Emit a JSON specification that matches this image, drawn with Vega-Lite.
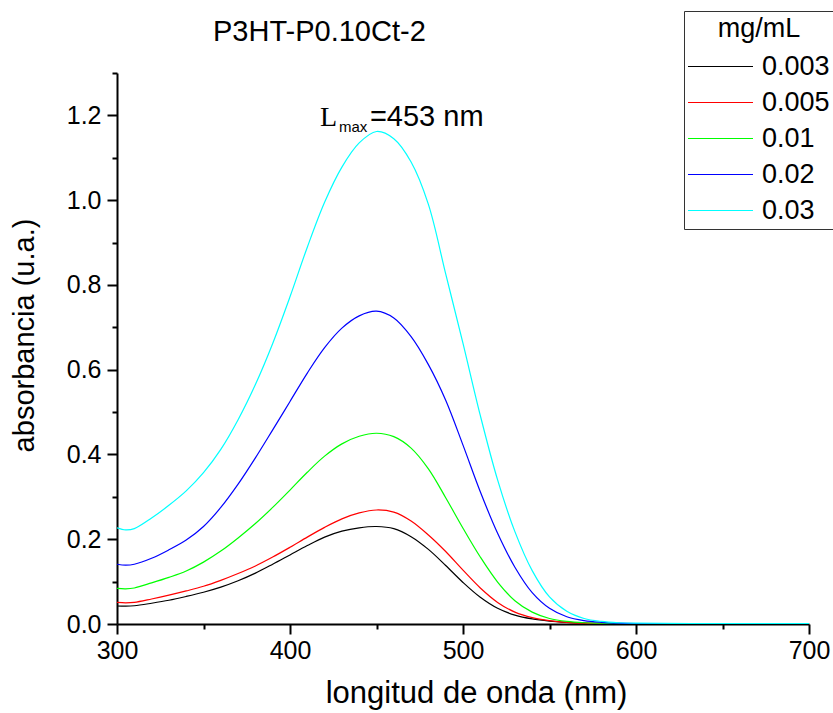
{
  "$schema": "https://vega.github.io/schema/vega-lite/v6.json",
  "width": 692,
  "height": 551,
  "autosize": {"type": "none"},
  "padding": {"left": 117, "top": 73, "right": 24, "bottom": 89},
  "background": "white",
  "config": {
    "font": "Liberation Sans",
    "view": {"stroke": null},
    "axis": {"grid": false, "domainColor": "black", "domainWidth": 2, "tickColor": "black", "tickWidth": 2, "labelColor": "black", "labelFontSize": 25, "labelFont": "Liberation Sans", "titleFont": "Liberation Sans", "titleFontSize": 29, "titleFontWeight": "normal", "titleColor": "black"}
  },
  "title": {"text": "P3HT-P0.10Ct-2", "anchor": "start", "frame": "group", "dx": 96, "fontSize": 29, "fontWeight": "normal", "font": "Liberation Sans", "color": "black", "baseline": "alphabetic", "offset": -59},
  "datasets": {
    "spectra": [
      {"wl":300,"a":0.0425,"c":"0.003"},{"wl":305,"a":0.042,"c":"0.003"},{"wl":310,"a":0.043,"c":"0.003"},{"wl":320,"a":0.049,"c":"0.003"},{"wl":330,"a":0.056,"c":"0.003"},{"wl":340,"a":0.065,"c":"0.003"},{"wl":350,"a":0.075,"c":"0.003"},{"wl":360,"a":0.087,"c":"0.003"},{"wl":370,"a":0.102,"c":"0.003"},{"wl":380,"a":0.120,"c":"0.003"},{"wl":390,"a":0.141,"c":"0.003"},{"wl":400,"a":0.163,"c":"0.003"},{"wl":410,"a":0.185,"c":"0.003"},{"wl":420,"a":0.205,"c":"0.003"},{"wl":430,"a":0.219,"c":"0.003"},{"wl":440,"a":0.227,"c":"0.003"},{"wl":450,"a":0.230,"c":"0.003"},{"wl":460,"a":0.225,"c":"0.003"},{"wl":470,"a":0.206,"c":"0.003"},{"wl":480,"a":0.176,"c":"0.003"},{"wl":490,"a":0.138,"c":"0.003"},{"wl":500,"a":0.098,"c":"0.003"},{"wl":510,"a":0.063,"c":"0.003"},{"wl":520,"a":0.037,"c":"0.003"},{"wl":530,"a":0.021,"c":"0.003"},{"wl":540,"a":0.012,"c":"0.003"},{"wl":550,"a":0.007,"c":"0.003"},{"wl":560,"a":0.004,"c":"0.003"},{"wl":570,"a":0.002,"c":"0.003"},{"wl":580,"a":0.001,"c":"0.003"},{"wl":590,"a":0.001,"c":"0.003"},{"wl":600,"a":0.001,"c":"0.003"},{"wl":650,"a":0.001,"c":"0.003"},{"wl":700,"a":0.001,"c":"0.003"},
      {"wl":300,"a":0.051,"c":"0.005"},{"wl":305,"a":0.050,"c":"0.005"},{"wl":310,"a":0.051,"c":"0.005"},{"wl":320,"a":0.059,"c":"0.005"},{"wl":330,"a":0.068,"c":"0.005"},{"wl":340,"a":0.078,"c":"0.005"},{"wl":350,"a":0.089,"c":"0.005"},{"wl":360,"a":0.103,"c":"0.005"},{"wl":370,"a":0.119,"c":"0.005"},{"wl":380,"a":0.137,"c":"0.005"},{"wl":390,"a":0.158,"c":"0.005"},{"wl":400,"a":0.181,"c":"0.005"},{"wl":410,"a":0.205,"c":"0.005"},{"wl":420,"a":0.228,"c":"0.005"},{"wl":430,"a":0.248,"c":"0.005"},{"wl":440,"a":0.262,"c":"0.005"},{"wl":450,"a":0.269,"c":"0.005"},{"wl":460,"a":0.264,"c":"0.005"},{"wl":470,"a":0.243,"c":"0.005"},{"wl":480,"a":0.210,"c":"0.005"},{"wl":490,"a":0.171,"c":"0.005"},{"wl":500,"a":0.127,"c":"0.005"},{"wl":510,"a":0.085,"c":"0.005"},{"wl":520,"a":0.051,"c":"0.005"},{"wl":530,"a":0.028,"c":"0.005"},{"wl":540,"a":0.015,"c":"0.005"},{"wl":550,"a":0.008,"c":"0.005"},{"wl":560,"a":0.004,"c":"0.005"},{"wl":570,"a":0.002,"c":"0.005"},{"wl":580,"a":0.001,"c":"0.005"},{"wl":590,"a":0.001,"c":"0.005"},{"wl":600,"a":0.001,"c":"0.005"},{"wl":650,"a":0.001,"c":"0.005"},{"wl":700,"a":0.001,"c":"0.005"},
      {"wl":300,"a":0.084,"c":"0.01"},{"wl":305,"a":0.083,"c":"0.01"},{"wl":310,"a":0.085,"c":"0.01"},{"wl":320,"a":0.097,"c":"0.01"},{"wl":330,"a":0.110,"c":"0.01"},{"wl":340,"a":0.125,"c":"0.01"},{"wl":350,"a":0.146,"c":"0.01"},{"wl":360,"a":0.172,"c":"0.01"},{"wl":370,"a":0.203,"c":"0.01"},{"wl":380,"a":0.237,"c":"0.01"},{"wl":390,"a":0.275,"c":"0.01"},{"wl":400,"a":0.316,"c":"0.01"},{"wl":410,"a":0.358,"c":"0.01"},{"wl":420,"a":0.396,"c":"0.01"},{"wl":430,"a":0.425,"c":"0.01"},{"wl":440,"a":0.443,"c":"0.01"},{"wl":450,"a":0.450,"c":"0.01"},{"wl":460,"a":0.442,"c":"0.01"},{"wl":470,"a":0.415,"c":"0.01"},{"wl":480,"a":0.366,"c":"0.01"},{"wl":490,"a":0.298,"c":"0.01"},{"wl":500,"a":0.226,"c":"0.01"},{"wl":510,"a":0.158,"c":"0.01"},{"wl":520,"a":0.099,"c":"0.01"},{"wl":530,"a":0.055,"c":"0.01"},{"wl":540,"a":0.028,"c":"0.01"},{"wl":550,"a":0.013,"c":"0.01"},{"wl":560,"a":0.006,"c":"0.01"},{"wl":570,"a":0.003,"c":"0.01"},{"wl":580,"a":0.002,"c":"0.01"},{"wl":590,"a":0.001,"c":"0.01"},{"wl":600,"a":0.001,"c":"0.01"},{"wl":650,"a":0.001,"c":"0.01"},{"wl":700,"a":0.001,"c":"0.01"},
      {"wl":300,"a":0.141,"c":"0.02"},{"wl":305,"a":0.139,"c":"0.02"},{"wl":310,"a":0.141,"c":"0.02"},{"wl":320,"a":0.155,"c":"0.02"},{"wl":330,"a":0.175,"c":"0.02"},{"wl":340,"a":0.198,"c":"0.02"},{"wl":350,"a":0.230,"c":"0.02"},{"wl":360,"a":0.275,"c":"0.02"},{"wl":370,"a":0.330,"c":"0.02"},{"wl":380,"a":0.392,"c":"0.02"},{"wl":390,"a":0.458,"c":"0.02"},{"wl":400,"a":0.525,"c":"0.02"},{"wl":410,"a":0.592,"c":"0.02"},{"wl":420,"a":0.652,"c":"0.02"},{"wl":430,"a":0.698,"c":"0.02"},{"wl":440,"a":0.727,"c":"0.02"},{"wl":450,"a":0.738,"c":"0.02"},{"wl":460,"a":0.722,"c":"0.02"},{"wl":470,"a":0.678,"c":"0.02"},{"wl":480,"a":0.612,"c":"0.02"},{"wl":490,"a":0.528,"c":"0.02"},{"wl":500,"a":0.422,"c":"0.02"},{"wl":510,"a":0.312,"c":"0.02"},{"wl":520,"a":0.214,"c":"0.02"},{"wl":530,"a":0.134,"c":"0.02"},{"wl":540,"a":0.074,"c":"0.02"},{"wl":550,"a":0.037,"c":"0.02"},{"wl":560,"a":0.017,"c":"0.02"},{"wl":570,"a":0.008,"c":"0.02"},{"wl":580,"a":0.004,"c":"0.02"},{"wl":590,"a":0.002,"c":"0.02"},{"wl":600,"a":0.001,"c":"0.02"},{"wl":650,"a":0.001,"c":"0.02"},{"wl":700,"a":0.001,"c":"0.02"},
      {"wl":300,"a":0.227,"c":"0.03"},{"wl":305,"a":0.222,"c":"0.03"},{"wl":310,"a":0.225,"c":"0.03"},{"wl":320,"a":0.250,"c":"0.03"},{"wl":330,"a":0.280,"c":"0.03"},{"wl":340,"a":0.314,"c":"0.03"},{"wl":350,"a":0.357,"c":"0.03"},{"wl":360,"a":0.412,"c":"0.03"},{"wl":370,"a":0.482,"c":"0.03"},{"wl":380,"a":0.565,"c":"0.03"},{"wl":390,"a":0.662,"c":"0.03"},{"wl":400,"a":0.772,"c":"0.03"},{"wl":410,"a":0.889,"c":"0.03"},{"wl":420,"a":0.995,"c":"0.03"},{"wl":430,"a":1.078,"c":"0.03"},{"wl":440,"a":1.135,"c":"0.03"},{"wl":450,"a":1.162,"c":"0.03"},{"wl":460,"a":1.145,"c":"0.03"},{"wl":470,"a":1.090,"c":"0.03"},{"wl":480,"a":0.990,"c":"0.03"},{"wl":490,"a":0.826,"c":"0.03"},{"wl":500,"a":0.662,"c":"0.03"},{"wl":510,"a":0.492,"c":"0.03"},{"wl":520,"a":0.340,"c":"0.03"},{"wl":530,"a":0.218,"c":"0.03"},{"wl":540,"a":0.126,"c":"0.03"},{"wl":550,"a":0.064,"c":"0.03"},{"wl":560,"a":0.030,"c":"0.03"},{"wl":570,"a":0.013,"c":"0.03"},{"wl":580,"a":0.006,"c":"0.03"},{"wl":590,"a":0.003,"c":"0.03"},{"wl":600,"a":0.002,"c":"0.03"},{"wl":650,"a":0.001,"c":"0.03"},{"wl":700,"a":0.001,"c":"0.03"}
    ],
    "annot": [
      {"part": "L", "t": "L", "wl": 417.3, "a": 1.174},
      {"part": "sub", "t": "max", "wl": 428.3, "a": 1.160},
      {"part": "eq", "t": "=453 nm", "wl": 446.2, "a": 1.174}
    ]
  },
  "layer": [
    {
      "data": {"name": "spectra"},
      "mark": {"type": "line", "strokeWidth": 1.2, "interpolate": "catmull-rom", "clip": true},
      "encoding": {
        "x": {
          "field": "wl", "type": "quantitative",
          "scale": {"domain": [300, 700], "nice": false, "zero": false},
          "axis": {
            "title": "longitud de onda (nm)",
            "values": [300, 350, 400, 450, 500, 550, 600, 650, 700],
            "labelExpr": "datum.value % 100 == 0 ? datum.label : ''",
            "tickSize": {"condition": {"test": "datum.value % 100 == 0", "value": 10}, "value": 5},
            "labelPadding": 4,
            "labelFlush": false,
            "titleFontSize": 31,
            "titleX": 359, "titleY": 78, "titleBaseline": "alphabetic", "titleAlign": "center"
          }
        },
        "y": {
          "field": "a", "type": "quantitative",
          "scale": {"domain": [0, 1.3], "nice": false, "zero": true},
          "axis": {
            "title": "absorbancia (u.a.)",
            "values": [0, 0.1, 0.2, 0.3, 0.4, 0.5, 0.6, 0.7, 0.8, 0.9, 1.0, 1.1, 1.2, 1.3],
            "labelExpr": "round(datum.value*10) % 2 == 0 ? format(datum.value, '.1f') : ''",
            "tickSize": {"condition": {"test": "round(datum.value*10) % 2 == 0", "value": 10}, "value": 5},
            "labelPadding": 6,
            "labelFlush": false,
            "titleX": -93, "titleY": 262, "titleBaseline": "middle", "titleAlign": "center", "titleAngle": -90
          }
        },
        "color": {
          "field": "c", "type": "nominal",
          "scale": {"domain": ["0.003", "0.005", "0.01", "0.02", "0.03"], "range": ["#000000", "#ff0000", "#00ff00", "#0000ff", "#00ffff"]},
          "legend": {
            "orient": "none", "legendX": 567, "legendY": -62,
            "title": "mg/mL", "titleFontSize": 27, "titleFontWeight": "normal", "titleColor": "black", "titleFont": "Liberation Sans", "titleAnchor": "middle", "titlePadding": 10,
            "labelFontSize": 27, "labelColor": "black", "labelFont": "Liberation Sans",
            "symbolType": "M-2.6,0H2.6", "symbolSize": 625, "symbolStrokeWidth": 1.2, "symbolOffset": 18, "labelOffset": 28,
            "rowPadding": 8, "padding": 5, "strokeColor": "#333333", "fillColor": "white"
          }
        }
      }
    },
    {
      "data": {"name": "annot"},
      "transform": [{"filter": "datum.part == 'L'"}],
      "mark": {"type": "text", "align": "left", "baseline": "alphabetic", "font": "Liberation Serif", "fontSize": 28, "color": "black"},
      "encoding": {"x": {"field": "wl", "type": "quantitative"}, "y": {"field": "a", "type": "quantitative"}, "text": {"field": "t"}}
    },
    {
      "data": {"name": "annot"},
      "transform": [{"filter": "datum.part == 'sub'"}],
      "mark": {"type": "text", "align": "left", "baseline": "alphabetic", "font": "Liberation Sans", "fontSize": 15, "color": "black"},
      "encoding": {"x": {"field": "wl", "type": "quantitative"}, "y": {"field": "a", "type": "quantitative"}, "text": {"field": "t"}}
    },
    {
      "data": {"name": "annot"},
      "transform": [{"filter": "datum.part == 'eq'"}],
      "mark": {"type": "text", "align": "left", "baseline": "alphabetic", "font": "Liberation Sans", "fontSize": 29, "color": "black"},
      "encoding": {"x": {"field": "wl", "type": "quantitative"}, "y": {"field": "a", "type": "quantitative"}, "text": {"field": "t"}}
    }
  ]
}
